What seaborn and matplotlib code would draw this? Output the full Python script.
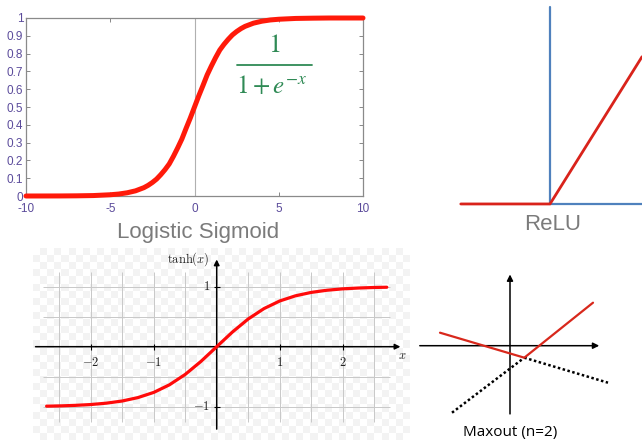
import numpy as np
import seaborn as sns
import matplotlib.pyplot as plt
from matplotlib.colors import ListedColormap
from matplotlib.lines import Line2D

# ---- data ----
# logistic sigmoid
sig_x = [-10, -9, -8, -7, -6, -5, -4.5, -4, -3.5, -3, -2.75, -2.5, -2.25, -2, -1.75,
         -1.5, -1.25, -1, -0.75, -0.5, -0.25, 0, 0.25, 0.5, 0.75, 1, 1.25, 1.5, 1.75,
         2, 2.25, 2.5, 2.75, 3, 3.5, 4, 4.5, 5, 6, 7, 8, 9, 10]
sig_y = [0.0, 0.0001, 0.0003, 0.001, 0.0025, 0.007, 0.011, 0.018, 0.029, 0.047, 0.06,
         0.076, 0.095, 0.12, 0.148, 0.18, 0.223, 0.27, 0.32, 0.38, 0.438, 0.5, 0.562,
         0.62, 0.68, 0.73, 0.777, 0.82, 0.852, 0.88, 0.905, 0.924, 0.94, 0.953, 0.971,
         0.982, 0.989, 0.993, 0.9975, 0.999, 1.0, 1.0, 1.0]
sig_xticks = [-10, -5, 0, 5, 10]
sig_yticks = [0, 0.1, 0.2, 0.3, 0.4, 0.5, 0.6, 0.7, 0.8, 0.9, 1]
sig_yticklabels = ["0", "0.1", "0.2", "0.3", "0.4", "0.5", "0.6", "0.7", "0.8", "0.9", "1"]

# relu
relu_x = [-0.97, 0.0, 1.0]
relu_y = [0.0, 0.0, 1.6]

# tanh
tanh_x = [-2.7, -2.5, -2.25, -2.0, -1.75, -1.5, -1.25, -1.0, -0.75, -0.5, -0.25, 0.0,
          0.25, 0.5, 0.75, 1.0, 1.25, 1.5, 1.75, 2.0, 2.25, 2.5, 2.7]
tanh_y = [-0.991, -0.987, -0.978, -0.964, -0.941, -0.905, -0.848, -0.762, -0.635, -0.462,
          -0.245, 0.0, 0.245, 0.462, 0.635, 0.762, 0.848, 0.905, 0.941, 0.964, 0.978,
          0.987, 0.991]
tanh_ticks = [-2, -1, 1, 2]
tanh_yticks = [-1, 1]
tanh_grid_x = [-2.5, -2, -1.5, -1, -0.5, 0.5, 1, 1.5, 2, 2.5]
tanh_grid_y = [-1, -0.5, 0.5, 1]

# maxout (n=2): two linear pieces, red is their max
line1_x = [-7.0, 1.43, 9.8]
line1_y = [1.3, -1.2, -3.7]
line2_x = [-5.8, 1.43, 8.3]
line2_y = [-6.7, -1.2, 4.3]

# ---- figure ----
W, H = 642, 443
sns.set_style("white")
plt.rcParams["font.family"] = ["Liberation Sans", "DejaVu Sans"]
plt.rcParams["mathtext.fontset"] = "cm"

fig = plt.figure(figsize=(W / 100, H / 100), dpi=100)


def px_rect(x0, y0, x1, y1):
    return [x0 / W, 1 - y1 / H, (x1 - x0) / W, (y1 - y0) / H]


# --- Logistic sigmoid ---
ax1 = fig.add_axes(px_rect(26, 18, 363, 196))
ax1.axvline(0, color="#b0b0b0", lw=0.8, zorder=1)
sns.lineplot(x=sig_x, y=sig_y, ax=ax1, color="#ff1a0a", lw=3.6, clip_on=False, zorder=3)
ax1.set_xlim(-10, 10)
ax1.set_ylim(0, 1)
ax1.set_xticks(sig_xticks)
ax1.set_xticklabels([str(t) for t in sig_xticks])
ax1.set_yticks(sig_yticks)
ax1.set_yticklabels(sig_yticklabels)
ax1.tick_params(direction="in", length=3, width=0.7, color="#888888", labelcolor="#5b4b9b",
                labelsize=8.5, left=True, right=True, bottom=True, top=True)
ax1.tick_params(axis="y", pad=2)
ax1.tick_params(axis="x", pad=5)
for s in ax1.spines.values():
    s.set_color("#8a8a8a")
    s.set_linewidth(0.9)
ax1.set_xlabel("")
ax1.set_ylabel("")

fig.text(198 / W, 1 - 238 / H, "Logistic Sigmoid", fontsize=16,
         color="#7b7b7b", ha="center", va="baseline")
# formula
green = "#2f8a55"
fig.text(275 / W, 1 - 52 / H, "1", family="STIXGeneral", fontsize=19, color=green,
         ha="center", va="baseline")
fig.add_artist(Line2D([237 / W, 312 / W], [1 - 64.5 / H, 1 - 64.5 / H], color=green, lw=1.3))
fig.text(272 / W, 1 - 93 / H, r"$1+e^{-x}$", fontsize=18, color=green, ha="center",
         va="baseline", math_fontfamily="stix")

# --- ReLU ---
ax2 = fig.add_axes(px_rect(440, 0, 642, 245))
ax2.plot([0, 0], [0, 2.14], color="#4f81bd", lw=1.6)
ax2.plot([0, 1.0], [0, 0], color="#4f81bd", lw=1.6)
sns.lineplot(x=relu_x, y=relu_y, ax=ax2, color="#d9231b", lw=2.0, zorder=3)
ax2.set_xlim(-1.196, 1.0)
ax2.set_ylim(-0.446, 2.217)
ax2.axis("off")
fig.text(553 / W, 1 - 230 / H, "ReLU", fontsize=16,
         color="#7b7b7b", ha="center", va="baseline")

# --- tanh ---
ax3 = fig.add_axes(px_rect(33, 248, 410, 440))
xl3, yl3 = (-2.916, 3.068), (-1.555, 1.645)
check = np.indices((27, 53)).sum(axis=0) % 2
ax3.imshow(check, extent=(*xl3, *yl3), cmap=ListedColormap(["#ffffff", "#f3f3f3"]),
           aspect="auto", interpolation="nearest", zorder=0)
ax3.vlines(tanh_grid_x, -1.25, 1.25, color="#c8c8c8", lw=0.7, zorder=1)
ax3.hlines(tanh_grid_y, -2.75, 2.75, color="#c8c8c8", lw=0.7, zorder=1)
ax3.annotate("", xy=(2.96, 0), xytext=(-2.92, 0),
             arrowprops=dict(arrowstyle="-|>", color="black", lw=1.1, mutation_scale=8), zorder=2)
ax3.annotate("", xy=(0, 1.5), xytext=(0, -1.42),
             arrowprops=dict(arrowstyle="-|>", color="black", lw=1.1, mutation_scale=8), zorder=2)
ax3.vlines(tanh_ticks, -0.05, 0.05, color="black", lw=0.8, zorder=2)
ax3.hlines(tanh_yticks, -0.05, 0.05, color="black", lw=0.8, zorder=2)
for t in tanh_ticks:
    ax3.text(t, -0.26, r"$%d$" % t, ha="center", va="center", fontsize=9, color="#222222")
for t in tanh_yticks:
    ax3.text(-0.1, t, r"$%d$" % t, ha="right", va="center", fontsize=9, color="#222222")
ax3.text(-0.12, 1.46, r"$\tanh(x)$", ha="right", va="center", fontsize=9, color="#222222")
ax3.text(2.94, -0.15, r"$x$", ha="center", va="center", fontsize=9, color="#222222")
sns.lineplot(x=tanh_x, y=tanh_y, ax=ax3, color="#ff0a0a", lw=2.3, zorder=3)
ax3.set_xlim(*xl3)
ax3.set_ylim(*yl3)
ax3.axis("off")

# --- Maxout ---
ax4 = fig.add_axes(px_rect(410, 250, 642, 443))
ax4.annotate("", xy=(9.2, 0), xytext=(-9.3, 0),
             arrowprops=dict(arrowstyle="-|>", color="black", lw=1.1, mutation_scale=9))
ax4.annotate("", xy=(0, 7.4), xytext=(0, -7.1),
             arrowprops=dict(arrowstyle="-|>", color="black", lw=1.1, mutation_scale=9))
ax4.plot(line1_x[1:], line1_y[1:], color="black", lw=1.8, ls=(0, (1, 1)))
ax4.plot(line2_x[:2], line2_y[:2], color="black", lw=1.8, ls=(0, (1, 1)))
ax4.plot([line1_x[0], line1_x[1], line2_x[2]], [line1_y[0], line1_y[1], line2_y[2]],
         color="#d8281c", lw=1.6, zorder=3)
ax4.set_xlim(-10, 13.2)
ax4.set_ylim(-9.73, 9.57)
ax4.axis("off")
fig.text(510 / W, 1 - 436 / H, "Maxout (n=2)", family="Open Sans", fontsize=11,
         color="black", ha="center", va="baseline")

fig.savefig("out.png", dpi=100)
